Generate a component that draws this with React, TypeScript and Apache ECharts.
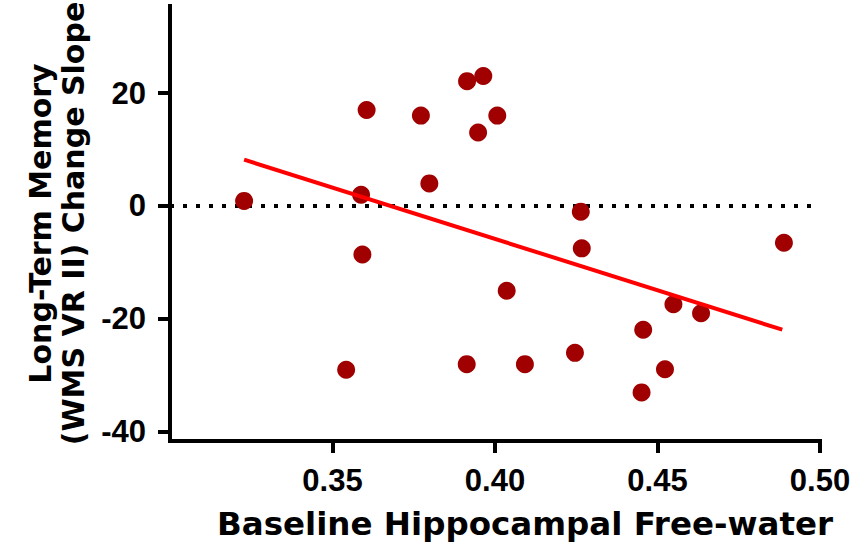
import React, { useEffect, useRef } from "react";
import * as echarts from "echarts";

// Baseline hippocampal free-water (x) vs long-term memory change slope (y)
const freeWater = [
  0.3228, 0.3542, 0.3588, 0.3592, 0.3605, 0.3772, 0.3798, 0.3913, 0.3914, 0.3948,
  0.3964, 0.4007, 0.4036, 0.4092, 0.4246, 0.4264, 0.4267, 0.4451, 0.4456, 0.4523,
  0.4549, 0.4634, 0.4889,
];
const memorySlope = [
  0.9, -29.0, 2.0, -8.6, 17.0, 16.0, 4.0, -28.0, 22.1, 13.0,
  23.0, 16.0, -15.0, -28.0, -26.0, -1.0, -7.5, -33.0, -21.9, -28.9,
  -17.4, -19.0, -6.5,
];

// Regression line end points
const fitX = [0.3228, 0.4884];
const fitY = [8.2, -21.9];

const xTicks = [0.35, 0.4, 0.45, 0.5];
const yTicks = [-40, -20, 0, 20];
const referenceY = [0];

const xTitle = "Baseline Hippocampal Free-water";
const yTitle = "Long-Term Memory\n(WMS VR II) Change Slope";

export default function App() {
  const ref = useRef<HTMLDivElement>(null);

  useEffect(() => {
    if (!ref.current) return;
    const chart = echarts.init(ref.current, undefined, { renderer: "svg" });
    const tickFont = {
      fontFamily: "Liberation Sans",
      fontWeight: "bold" as const,
      fontSize: 31,
      color: "#000",
    };
    const titleFont = {
      fontFamily: "DejaVu Sans",
      fontWeight: "bold" as const,
      color: "#000",
    };
    chart.setOption({
      animation: false,
      backgroundColor: "#fff",
      grid: {
        left: 170,
        right: 34,
        top: 6,
        bottom: 113,
        containLabel: false,
        outerBoundsMode: "none",
      },
      xAxis: {
        type: "value",
        min: 0.3,
        max: 0.5,
        name: xTitle,
        nameLocation: "middle",
        nameGap: 67,
        nameTextStyle: { ...titleFont, fontSize: 32.5, lineHeight: 32, padding: [0, 0, 0, 60] },
        axisLine: { show: true, onZero: false, lineStyle: { color: "#000", width: 4, cap: "square" } },
        axisTick: { show: true, length: 12, customValues: xTicks, lineStyle: { color: "#000", width: 4 } },
        axisLabel: {
          ...tickFont,
          margin: 24,
          customValues: xTicks,
          formatter: (v: number) => v.toFixed(2),
        },
        splitLine: { show: false },
      },
      yAxis: {
        type: "value",
        min: -41.6,
        max: 35.4,
        name: yTitle,
        nameLocation: "middle",
        nameRotate: 90,
        nameGap: 80,
        nameTextStyle: { ...titleFont, fontSize: 30, lineHeight: 33 },
        axisLine: { show: true, onZero: false, lineStyle: { color: "#000", width: 4, cap: "square" } },
        axisTick: { show: true, length: 12, customValues: yTicks, lineStyle: { color: "#000", width: 4 } },
        axisLabel: { ...tickFont, margin: 24, customValues: yTicks },
        splitLine: { show: false },
      },
      series: [
        {
          type: "scatter",
          z: 3,
          symbol: "circle",
          symbolSize: 18,
          itemStyle: { color: "#A00000", opacity: 1 },
          data: freeWater.map((x, i) => [x, memorySlope[i]]),
          markLine: {
            z: 1,
            silent: true,
            symbol: ["none", "none"],
            label: { show: false },
            lineStyle: { color: "#000", width: 4, type: [4, 9], cap: "butt" },
            data: referenceY.map((y) => ({ yAxis: y })),
          },
        },
        {
          type: "line",
          z: 4,
          showSymbol: false,
          symbol: "none",
          lineStyle: { color: "#FF0000", width: 4 },
          data: fitX.map((x, i) => [x, fitY[i]]),
        },
      ],
    });
    return () => chart.dispose();
  }, []);

  return (
    <div
      ref={ref}
      style={{ position: "absolute", left: 0, top: 0, width: 854, height: 554 }}
    />
  );
}
